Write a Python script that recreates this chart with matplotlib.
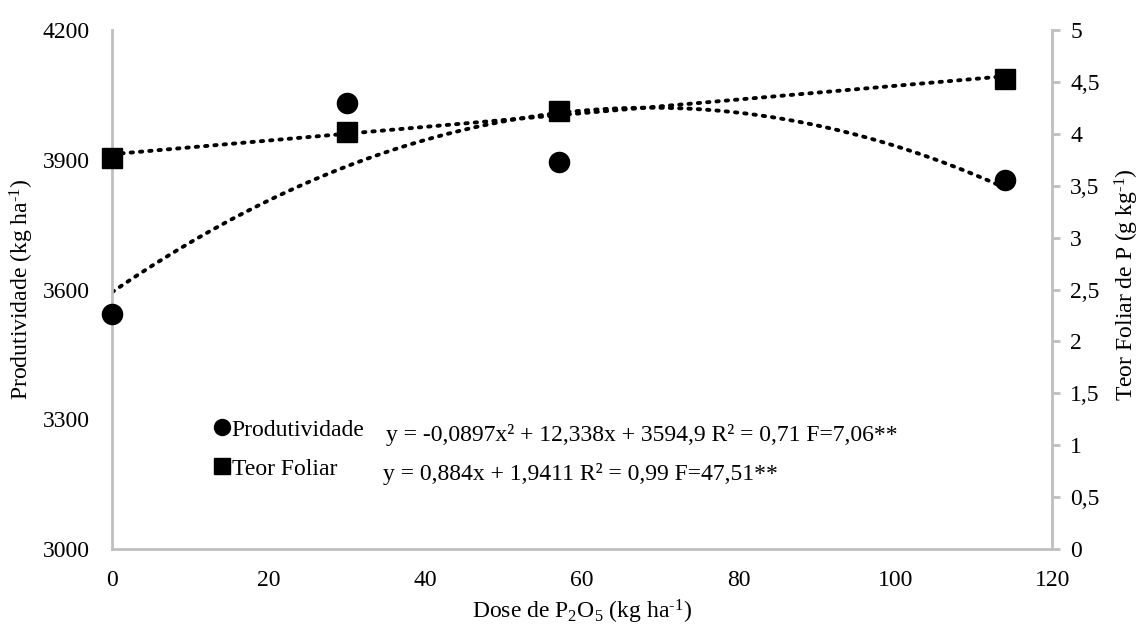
import numpy as np
import matplotlib
matplotlib.use("Agg")
import matplotlib.pyplot as plt
from matplotlib.lines import Line2D

plt.rcParams['font.family'] = ['Liberation Serif', 'DejaVu Serif']
plt.rcParams['mathtext.fontset'] = 'custom'
plt.rcParams['mathtext.rm'] = 'Liberation Serif'
plt.rcParams['mathtext.it'] = 'Liberation Serif:italic'

# data
dose = [0, 30, 57, 114]
produtividade = [3543, 4031, 3895, 3853]   # kg/ha, left axis
teor_foliar = [3.77, 4.02, 4.22, 4.53]     # g/kg, right axis

eq_prod = "y = -0,0897x\u00b2 + 12,338x + 3594,9 R\u00b2 = 0,71 F=7,06**"
eq_teor = "y = 0,884x + 1,9411 R\u00b2 = 0,99 F=47,51**"

gray = '#bfbfbf'
fs = 17

fig = plt.figure(figsize=(11.41, 6.26), dpi=100)
ax = fig.add_axes([0.0982, 0.123, 0.824, 0.829])
ax2 = ax.twinx()

# trend lines fitted on the points
xs = np.linspace(min(dose), max(dose), 200)
cq = np.polyfit(dose, produtividade, 2)
cl = np.polyfit(dose, teor_foliar, 1)
ax.plot(xs, np.polyval(cq, xs), color='black', ls=(0, (0.6, 1.8)), lw=2.8,
        dash_capstyle='round', zorder=2)
ax2.plot(xs, np.polyval(cl, xs), color='black', ls=(0, (0.6, 1.8)), lw=2.8,
         dash_capstyle='round', zorder=2)

ax.plot(dose, produtividade, 'o', color='black', ms=14.5, zorder=3, clip_on=False)
ax2.plot(dose, teor_foliar, 's', color='black', ms=14, zorder=3, clip_on=False)

ax.set_xlim(0, 120)
ax.set_ylim(3000, 4200)
ax2.set_ylim(0, 5)
ax.set_xticks(np.arange(0, 121, 20))
ax.set_yticks(np.arange(3000, 4201, 300))
ax2.set_yticks(np.arange(0, 5.01, 0.5))
ax2.set_yticklabels([f"{v:g}".replace('.', ',') for v in np.arange(0, 5.01, 0.5)])

for a in (ax, ax2):
    a.spines['top'].set_visible(False)
    for s in ('left', 'right', 'bottom'):
        a.spines[s].set_color(gray)
        a.spines[s].set_linewidth(2)
ax.spines['right'].set_visible(False)
ax2.spines['left'].set_visible(False)
ax2.spines['bottom'].set_visible(False)

ax.tick_params(axis='y', length=0, labelsize=fs, pad=16)
ax.tick_params(axis='x', length=0, labelsize=fs, pad=15)
ax2.tick_params(axis='y', length=6, width=2, color=gray, labelsize=fs, pad=7)

ax.set_xlabel("Dose de P$_2$O$_5$ (kg ha$^{\\text{-1}}$)", fontsize=fs, va='center')
ax.xaxis.set_label_coords(0.5, -0.121)
ax.set_ylabel("Produtividade (kg ha$^{\\text{-1}}$)", fontsize=fs, va='center')
ax.yaxis.set_label_coords(-0.0957, 0.5)
ax2.set_ylabel("Teor Foliar de P (g kg$^{\\text{-1}}$)", fontsize=fs, rotation=90, va='center')
ax2.yaxis.set_label_coords(1.079, 0.509)

handles = [
    Line2D([], [], marker='o', color='black', ls='none', ms=11.5),
    Line2D([], [], marker='s', color='black', ls='none', ms=11.5),
]
ax.legend(handles, ['Produtividade', 'Teor Foliar'], frameon=False, fontsize=fs,
          loc='center left', bbox_to_anchor=(0.1085, 0.192), handlelength=0.7,
          handletextpad=0.05, labelspacing=0.75, borderaxespad=0, borderpad=0)

fig.text(386 / 1141, 1 - 435 / 626, eq_prod, fontsize=fs, va='center')
fig.text(383 / 1141, 1 - 474 / 626, eq_teor, fontsize=fs, va='center')

fig.savefig("out.png", dpi=100)
